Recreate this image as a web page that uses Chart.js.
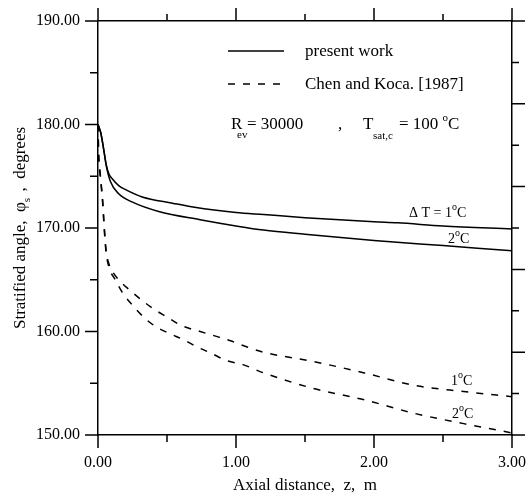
<!DOCTYPE html>
<html>
<head>
<meta charset="utf-8">
<script src="https://cdn.jsdelivr.net/npm/chart.js@4.4.1/dist/chart.umd.min.js"></script>
<style>
  html, body { margin: 0; padding: 0; background: #fff; }
  #wrap { width: 528px; height: 498px; }
</style>
</head>
<body>
<div id="wrap"><canvas id="chart" width="528" height="498"></canvas></div>
<script>
// data (z in m, angle in degrees)
var zSolid1 = [0, 0.02, 0.04, 0.06, 0.08, 0.1, 0.15, 0.2, 0.32, 0.54, 0.7, 1.0, 1.2, 1.5, 2.0, 2.17, 2.5, 3.0];
var phiSolid1 = [180, 179.2, 177.7, 176.1, 175.2, 174.8, 174.1, 173.7, 173.0, 172.4, 172.0, 171.5, 171.3, 171.0, 170.6, 170.5, 170.2, 169.9];
var zSolid2 = [0, 0.02, 0.04, 0.06, 0.09, 0.15, 0.25, 0.44, 0.74, 1.0, 1.2, 1.5, 2.0, 2.5, 3.0];
var phiSolid2 = [180, 179.2, 177.7, 176.0, 174.5, 173.3, 172.5, 171.6, 170.8, 170.2, 169.8, 169.4, 168.8, 168.3, 167.8];
var zDash1 = [0, 0.005, 0.015, 0.025, 0.035, 0.042, 0.05, 0.058, 0.08, 0.11, 0.15, 0.23, 0.32, 0.4, 0.5, 0.6, 0.74, 0.84, 0.96, 1.08, 1.2, 1.56, 1.93, 2.29, 2.65, 3.0];
var phiDash1 = [180, 177.0, 175.4, 174.0, 172.4, 170.8, 169.2, 167.9, 166.5, 165.7, 165.0, 164.0, 163.0, 162.2, 161.4, 160.6, 160.0, 159.6, 159.1, 158.5, 158.0, 157.1, 156.0, 154.8, 154.2, 153.7];
var zDash2 = [0, 0.005, 0.015, 0.025, 0.035, 0.042, 0.05, 0.058, 0.08, 0.125, 0.175, 0.246, 0.33, 0.415, 0.52, 0.62, 0.72, 0.82, 0.93, 1.05, 1.2, 1.56, 1.93, 2.29, 2.65, 3.0];
var phiDash2 = [180, 176.9, 175.2, 173.8, 172.2, 170.6, 169.0, 167.7, 166.2, 165.0, 163.8, 162.6, 161.4, 160.5, 159.8, 159.2, 158.5, 157.9, 157.2, 156.8, 156.0, 154.5, 153.4, 152.1, 151.1, 150.2];

var xTicksMajor = [0, 1, 2, 3];
var xTicksMinor = [0.5, 1.5, 2.5];
var yTicksLeft = [150, 155, 160, 165, 170, 175, 180, 185, 190];
var yTicksRight = [150, 154, 158, 162, 166, 170, 174, 178, 182, 186, 190];

var SERIF = "'Liberation Serif', 'DejaVu Serif', serif";

function toPoints(xs, ys) {
    var pts = [];
    for (var i = 0; i < xs.length; i++) {
        pts.push({ x: xs[i], y: ys[i] });
    }
    return pts;
}

// draw pieces of text: normal, subscript, superscript
function drawRich(ctx, x, y, parts) {
    var cx = x;
    for (var i = 0; i < parts.length; i++) {
        var p = parts[i];
        ctx.font = (p.size || 16) + "px " + SERIF;
        ctx.fillText(p.t, cx, y + (p.dy || 0));
        cx += ctx.measureText(p.t).width + (p.gap || 0);
    }
    return cx - x;
}

function richWidth(ctx, parts) {
    var w = 0;
    for (var i = 0; i < parts.length; i++) {
        ctx.font = (parts[i].size || 16) + "px " + SERIF;
        w += ctx.measureText(parts[i].t).width + (parts[i].gap || 0);
    }
    return w;
}

// tick marks outside the frame on all four sides
var tickPlugin = {
    id: 'tickMarks',
    afterDraw: function (chart) {
        var ctx = chart.ctx;
        var xs = chart.scales.x, ys = chart.scales.y;
        var area = chart.chartArea;
        ctx.save();
        ctx.strokeStyle = '#000';
        ctx.lineWidth = 1.5;
        ctx.beginPath();
        xTicksMajor.concat(xTicksMinor).forEach(function (v) {
            var px = xs.getPixelForValue(v);
            var len = xTicksMajor.indexOf(v) >= 0 ? 13 : 7;
            ctx.moveTo(px, area.bottom);
            ctx.lineTo(px, area.bottom + len);
            ctx.moveTo(px, area.top);
            ctx.lineTo(px, area.top - len);
        });
        yTicksLeft.forEach(function (v) {
            var py = ys.getPixelForValue(v);
            var len = (v % 10 === 0) ? 13 : 8;
            ctx.moveTo(area.left, py);
            ctx.lineTo(area.left - len, py);
        });
        yTicksRight.forEach(function (v) {
            var py = ys.getPixelForValue(v);
            var len = ((v - 150) % 8 === 0) ? 13 : 7;
            ctx.moveTo(area.right, py);
            ctx.lineTo(area.right + len, py);
        });
        ctx.stroke();
        ctx.restore();
    }
};

// legend, parameters, curve labels and axis titles
var textPlugin = {
    id: 'figText',
    afterDraw: function (chart) {
        var ctx = chart.ctx;
        ctx.save();
        ctx.fillStyle = '#000';
        ctx.strokeStyle = '#000';
        ctx.textBaseline = 'alphabetic';
        ctx.textAlign = 'left';

        // legend
        ctx.lineWidth = 1.5;
        ctx.beginPath();
        ctx.moveTo(228, 51);
        ctx.lineTo(284, 51);
        ctx.stroke();
        ctx.setLineDash([7, 8]);
        ctx.beginPath();
        ctx.moveTo(228, 84);
        ctx.lineTo(284, 84);
        ctx.stroke();
        ctx.setLineDash([]);
        drawRich(ctx, 305, 56, [{ t: 'present work', size: 17 }]);
        drawRich(ctx, 305, 89, [{ t: 'Chen and Koca. [1987]', size: 17 }]);

        // parameters
        drawRich(ctx, 231, 129, [{ t: 'R', size: 17 }]);
        drawRich(ctx, 237, 138, [{ t: 'ev', size: 11 }]);
        drawRich(ctx, 247, 129, [{ t: '= 30000', size: 17 }]);
        drawRich(ctx, 338, 129, [{ t: ',', size: 17 }]);
        drawRich(ctx, 363, 129, [{ t: 'T', size: 17 }]);
        drawRich(ctx, 373, 139, [{ t: 'sat,c', size: 11 }]);
        drawRich(ctx, 399, 129, [{ t: '= 100 ', size: 17 }, { t: 'o', size: 11, dy: -8 }, { t: 'C', size: 17 }]);

        // curve labels
        drawRich(ctx, 409, 217, [{ t: 'Δ T = 1', size: 14 }, { t: 'o', size: 10, dy: -7 }, { t: 'C', size: 14 }]);
        drawRich(ctx, 448, 243, [{ t: '2', size: 14 }, { t: 'o', size: 10, dy: -7 }, { t: 'C', size: 14 }]);
        drawRich(ctx, 451, 385, [{ t: '1', size: 14 }, { t: 'o', size: 10, dy: -7 }, { t: 'C', size: 14 }]);
        drawRich(ctx, 452, 418, [{ t: '2', size: 14 }, { t: 'o', size: 10, dy: -7 }, { t: 'C', size: 14 }]);

        // x title
        var xt = [{ t: 'Axial distance,  z,  m', size: 17 }];
        drawRich(ctx, 305 - richWidth(ctx, xt) / 2, 490, xt);

        // y title (rotated)
        var yt = [{ t: 'Stratified angle,  φ', size: 17 }, { t: 's', size: 11, dy: 5, gap: 2 }, { t: ' ,  degrees', size: 17 }];
        ctx.translate(25, 228);
        ctx.rotate(-Math.PI / 2);
        drawRich(ctx, -richWidth(ctx, yt) / 2, 0, yt);
        ctx.restore();
    }
};

var vLineStyle = { borderColor: '#000', borderWidth: 1.5, pointRadius: 0, fill: false, cubicInterpolationMode: 'monotone' };

var vDatasets = [
    Object.assign({ label: 'present work 1', data: toPoints(zSolid1, phiSolid1) }, vLineStyle),
    Object.assign({ label: 'present work 2', data: toPoints(zSolid2, phiSolid2) }, vLineStyle),
    Object.assign({ label: 'Chen and Koca 1', data: toPoints(zDash1, phiDash1), borderDash: [7, 8] }, vLineStyle),
    Object.assign({ label: 'Chen and Koca 2', data: toPoints(zDash2, phiDash2), borderDash: [7, 8] }, vLineStyle)
];

var vBorder = { display: true, color: '#000', width: 1.5 };

// fix the box size and drop the label overflow padding
function fixBox(w, h) {
    return function (s) {
        if (w !== null) s.width = w;
        if (h !== null) s.height = h;
        s.paddingLeft = 0;
        s.paddingRight = 0;
        s.paddingTop = 0;
        s.paddingBottom = 0;
    };
}

new Chart(document.getElementById('chart').getContext('2d'), {
    type: 'line',
    data: { datasets: vDatasets },
    options: {
        responsive: false,
        animation: false,
        layout: { padding: 0 },
        plugins: { legend: { display: false }, tooltip: { enabled: false } },
        scales: {
            x: {
                type: 'linear', position: 'bottom', min: 0, max: 3,
                grid: { display: false, drawTicks: false },
                border: vBorder,
                ticks: {
                    stepSize: 1, padding: 18, color: '#000', maxRotation: 0,
                    font: { family: SERIF, size: 16 },
                    callback: function (v) { return v.toFixed(2); }
                },
                afterFit: fixBox(null, 63)
            },
            x2: {
                type: 'linear', position: 'top', min: 0, max: 3,
                grid: { display: false, drawTicks: false },
                border: vBorder,
                ticks: { display: false },
                afterFit: fixBox(null, 21)
            },
            y: {
                type: 'linear', position: 'left', min: 150, max: 190,
                grid: { display: false, drawTicks: false },
                border: vBorder,
                ticks: {
                    stepSize: 10, padding: 18, color: '#000',
                    font: { family: SERIF, size: 16 },
                    callback: function (v) { return v.toFixed(2); }
                },
                afterFit: fixBox(98, null)
            },
            y2: {
                type: 'linear', position: 'right', min: 150, max: 190,
                grid: { display: false, drawTicks: false },
                border: vBorder,
                ticks: { display: false },
                afterFit: fixBox(16, null)
            }
        }
    },
    plugins: [tickPlugin, textPlugin]
});
</script>
</body>
</html>
